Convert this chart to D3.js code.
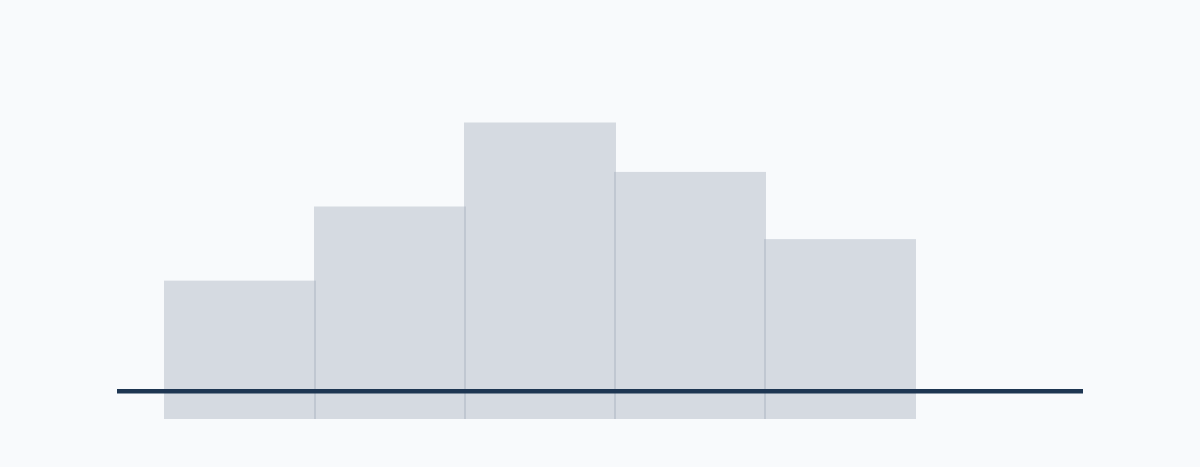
<!DOCTYPE html>
<html>
<head>
<meta charset="utf-8">
<script src="https://cdn.jsdelivr.net/npm/d3@7"></script>
<style>
  html, body { margin: 0; padding: 0; background: #f8fafc; }
  svg { display: block; }
</style>
</head>
<body>
<div id="chart"></div>
<script>
// bin edges and counts
var binStarts = [0, 1, 2, 3, 4];
var binEnds = [1, 2, 3, 4, 5];
var counts = [28, 43, 60, 50, 36.4];
var xDomain = [-0.32, 6.12];
var refValue = 5.6;

var width = 1200,
    height = 467;

var svg = d3.select('#chart')
    .append('svg')
    .attr('width', width)
    .attr('height', height);

svg.append('rect')
    .attr('width', width)
    .attr('height', height)
    .attr('fill', '#f8fafc');

var x = d3.scaleLinear()
    .domain(xDomain)
    .range([117, 1083]);

var y = d3.scaleLinear()
    .domain([0, 60])
    .range([419, 122.5]);

var bins = binStarts.map(function(d, i) {
    return { x0: d, x1: binEnds[i], count: counts[i] };
});

// bars overlap by a pixel each side so the joins show darker
svg.selectAll('rect.bar')
    .data(bins)
    .enter()
    .append('rect')
    .attr('class', 'bar')
    .attr('x', function(d) { return x(d.x0) - 1; })
    .attr('width', function(d) { return x(d.x1) - x(d.x0) + 2; })
    .attr('y', function(d) { return y(d.count); })
    .attr('height', function(d) { return y(0) - y(d.count); })
    .attr('fill', '#a0aab8')
    .attr('fill-opacity', 0.4);

svg.append('line')
    .attr('x1', x(xDomain[0]))
    .attr('x2', x(xDomain[1]))
    .attr('y1', y(refValue))
    .attr('y2', y(refValue))
    .attr('stroke', '#1e3652')
    .attr('stroke-width', 4.5);
</script>
</body>
</html>
